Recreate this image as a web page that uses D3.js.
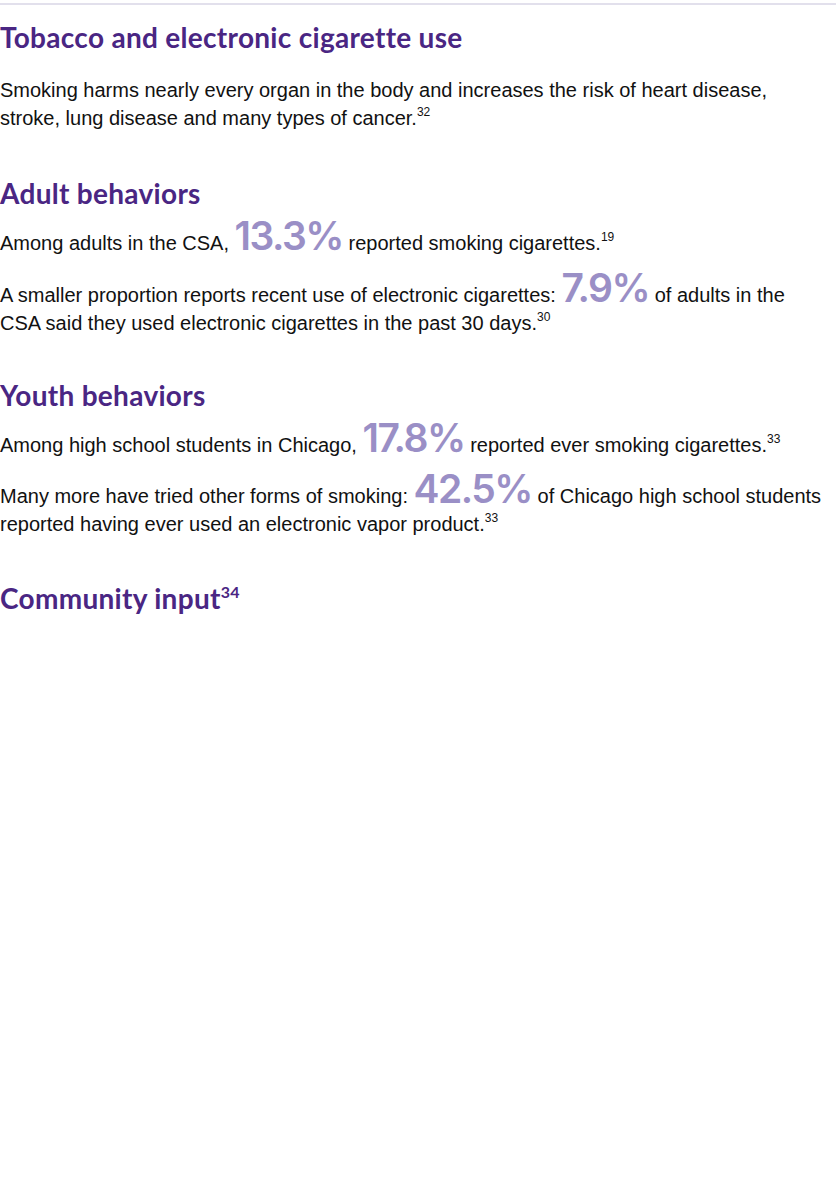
<!DOCTYPE html>
<html><head><meta charset="utf-8">
<script src="https://cdn.jsdelivr.net/npm/d3@7"></script>
<style>body{margin:0;background:#fff}</style></head>
<body><svg id="c" width="836" height="1193"></svg>
<script>
const headings = ["Tobacco and electronic cigarette use","Adult behaviors","Youth behaviors","Community input"];
const headingSup = ["","","","34"];
const statValues = [13.3,7.9,17.8,42.5];
const lines = [
  {y:97, segs:[["Smoking harms nearly every organ in the body and increases the risk of heart disease,","t"]]},
  {y:125, segs:[["stroke, lung disease and many types of cancer.","t"],["32","s"]]},
  {y:250, segs:[["Among adults in the CSA, ","t"],[0,"n"],[" reported smoking cigarettes.","t"],["19","s"]]},
  {y:302, segs:[["A smaller proportion reports recent use of electronic cigarettes: ","t"],[1,"n"],[" of adults in the","t"]]},
  {y:330, segs:[["CSA said they used electronic cigarettes in the past 30 days.","t"],["30","s"]]},
  {y:452, segs:[["Among high school students in Chicago, ","t"],[2,"n"],[" reported ever smoking cigarettes.","t"],["33","s"]]},
  {y:503, segs:[["Many more have tried other forms of smoking: ","t"],[3,"n"],[" of Chicago high school students","t"]]},
  {y:531, segs:[["reported having ever used an electronic vapor product.","t"],["33","s"]]}
];
const headingY = [48,204,406,609];
const svg = d3.select("#c");
svg.append("line").attr("x1",0).attr("x2",836).attr("y1",4).attr("y2",4).attr("stroke","#e2e0ec").attr("stroke-width",2);
const purple="#4a2683", light="#9a8fc6";
headings.forEach((h,i)=>{
  const t=svg.append("text").attr("x",0).attr("y",headingY[i]).attr("font-family","Lato, sans-serif")
    .attr("font-size",28).attr("font-weight",700).attr("letter-spacing",0.3).attr("fill",purple).text(h);
  if(headingSup[i]) t.append("tspan").attr("font-size",16).attr("dy",-11).text(headingSup[i]);
});
const fmt = d3.format(".1f");
lines.forEach(l=>{
  const t=svg.append("text").attr("x",0).attr("y",l.y).attr("font-family","'Liberation Sans', Arial, sans-serif")
    .attr("font-size",20).attr("fill","#111");
  let shifted=0;
  l.segs.forEach(([s,type])=>{
    const sp=t.append("tspan");
    if(type==="s"){sp.attr("font-size",12).attr("dy",-9);shifted=-9;sp.text(s);}
    else if(type==="n"){sp.attr("font-size",39).attr("fill",light).attr("font-family","Inter, sans-serif").attr("font-weight",600).attr("letter-spacing",-1.5)
        .text(fmt(statValues[s])+"%");}
    else{ if(shifted){sp.attr("dy",-shifted);shifted=0;} sp.text(s);}
  });
});
</script></body></html>
